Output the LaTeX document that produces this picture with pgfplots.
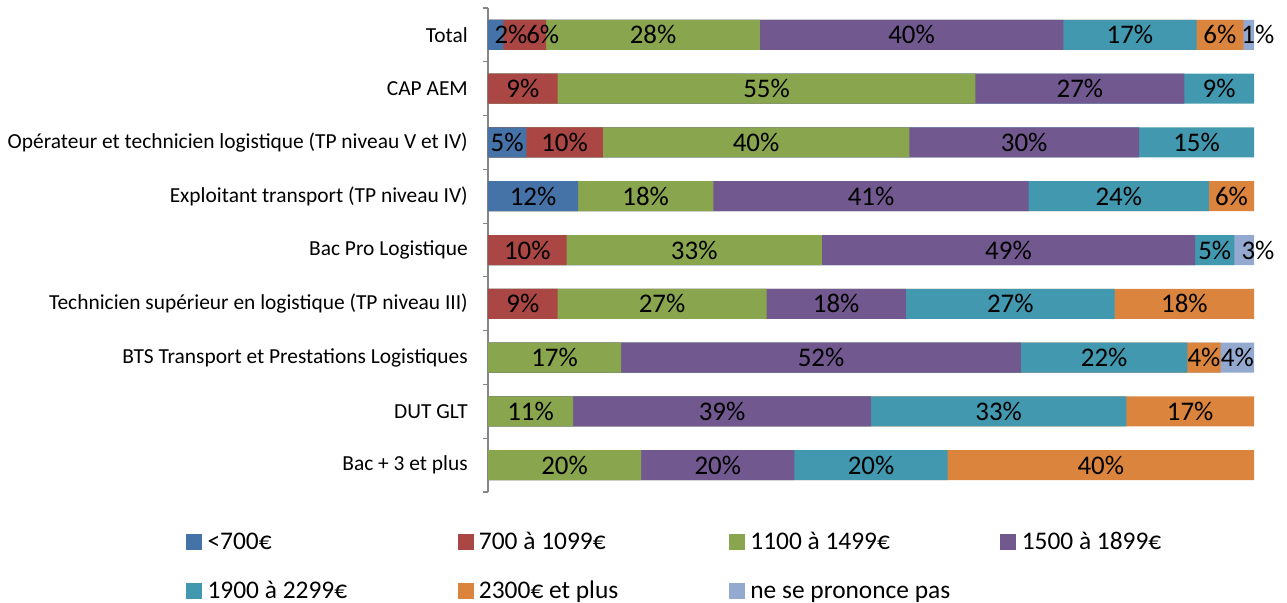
\documentclass[border=0pt]{standalone}
\usepackage{pgfplots}
\pgfplotsset{compat=1.18}
\usepackage{pgfplotstable}
\usepackage{fontspec}
\setmainfont{Carlito}
\definecolor{c1}{HTML}{4572A7}
\definecolor{c2}{HTML}{AA4643}
\definecolor{c3}{HTML}{89A54E}
\definecolor{c4}{HTML}{71588F}
\definecolor{c5}{HTML}{4198AF}
\definecolor{c6}{HTML}{DB843D}
\definecolor{c7}{HTML}{93A9CF}
\definecolor{axgray}{HTML}{868686}
% each series: category index, start and end of its segment (percent, stacked),
% dx = horizontal offset of the data label (percent units)
% <700
\pgfplotstableread{
cat s e dx
0 0 2.0 2.0
2 0 5 0
3 0 11.76 0
}\tA
% 700 a 1099
\pgfplotstableread{
cat s e dx
0 2.0 7.6 2.35
1 0 9.09 0
2 5 15 0
4 0 10.26 0
5 0 9.09 0
}\tB
% 1100 a 1499
\pgfplotstableread{
cat s e dx
0 7.6 35.5 0
1 9.09 63.64 0
2 15 55 0
3 11.76 29.41 0
4 10.26 43.59 0
5 9.09 36.36 0
6 0 17.39 0
7 0 11.11 0
8 0 20 0
}\tC
% 1500 a 1899
\pgfplotstableread{
cat s e dx
0 35.5 75.1 0
1 63.64 90.91 0
2 55 85 0
3 29.41 70.59 0
4 43.59 92.31 0
5 36.36 54.55 0
6 17.39 69.57 0
7 11.11 50 0
8 20 40 0
}\tD
% 1900 a 2299
\pgfplotstableread{
cat s e dx
0 75.1 92.5 0
1 90.91 100 0
2 85 100 0
3 70.59 94.12 0
4 92.31 97.44 0
5 54.55 81.82 0
6 69.57 91.30 0
7 50 83.33 0
8 40 60 0
}\tE
% 2300 et plus
\pgfplotstableread{
cat s e dx
0 92.5 98.6 0
3 94.12 100 0
5 81.82 100 0
6 91.30 95.65 0
7 83.33 100 0
8 60 100 0
}\tF
% ne se prononce pas
\pgfplotstableread{
cat s e dx
0 98.6 100 1.2
4 97.44 100 1.8
6 95.65 100 0
}\tG
\pgfplotsset{
  seg/.style={xbar, bar width=30bp, bar shift=0pt, draw=none, forget plot, fill=#1},
  lab/.style={draw=none, mark=none, forget plot,
    point meta={\thisrow{e}-\thisrow{s}},
    nodes near coords={\pgfmathprintnumber[fixed,precision=0]{\pgfplotspointmeta}\%},
    every node near coord/.append style={anchor=center, font=\fontsize{27}{29}\selectfont, text=black, inner sep=0pt}},
  sq/.style={legend image code/.code={\fill[#1] (0bp,-5bp) rectangle (15bp,10bp);}},
}
\begin{document}
\begin{tikzpicture}
\useasboundingbox (-488bp,-111bp) rectangle (799bp,492bp);
\begin{axis}[
  at={(0,0)}, anchor=south west,
  scale only axis, width=766bp, height=484bp,
  xmin=0, xmax=100,
  ymin=-0.5, ymax=8.5, y dir=reverse,
  axis x line=none,
  axis y line*=left,
  y axis line style={draw=axgray, line width=1.2bp},
  ytick={0,...,8},
  yticklabels={Total, CAP AEM, Opérateur et technicien logistique (TP niveau V et IV), Exploitant transport (TP niveau IV), Bac Pro Logistique, Technicien supérieur en logistique (TP niveau III), BTS Transport et Prestations Logistiques, DUT GLT, Bac + 3 et plus},
  major tick length=0pt,
  minor ytick={-0.5,0.5,...,8.5},
  minor tick length=5bp,
  tick align=outside,
  every minor tick/.style={draw=axgray, line width=1.2bp},
  yticklabel style={font=\fontsize{21.5}{23}\selectfont, inner sep=0pt, xshift=-20bp, anchor=east},
  /pgf/number format/assume math mode=true,
  clip=false,
  legend columns=4,
  legend style={at={(0,0)}, anchor=north west, xshift=-302bp, yshift=-42bp, draw=none, fill=none, inner sep=0pt, column sep=0pt, row sep=28.5bp, font=\fontsize{25.5}{27}\selectfont, nodes={inner sep=0pt, text height=15bp, text depth=5bp}},
]
\addplot[seg=c7] table[x=e, y=cat] {\tG};
\addplot[seg=c6] table[x=e, y=cat] {\tF};
\addplot[seg=c5] table[x=e, y=cat] {\tE};
\addplot[seg=c4] table[x=e, y=cat] {\tD};
\addplot[seg=c3] table[x=e, y=cat] {\tC};
\addplot[seg=c2] table[x=e, y=cat] {\tB};
\addplot[seg=c1] table[x=e, y=cat] {\tA};
\addplot[lab] table[x expr={(\thisrow{s}+\thisrow{e})/2+\thisrow{dx}}, y=cat] {\tA};
\addplot[lab] table[x expr={(\thisrow{s}+\thisrow{e})/2+\thisrow{dx}}, y=cat] {\tB};
\addplot[lab] table[x expr={(\thisrow{s}+\thisrow{e})/2+\thisrow{dx}}, y=cat] {\tC};
\addplot[lab] table[x expr={(\thisrow{s}+\thisrow{e})/2+\thisrow{dx}}, y=cat] {\tD};
\addplot[lab] table[x expr={(\thisrow{s}+\thisrow{e})/2+\thisrow{dx}}, y=cat] {\tE};
\addplot[lab] table[x expr={(\thisrow{s}+\thisrow{e})/2+\thisrow{dx}}, y=cat] {\tF};
\addplot[lab] table[x expr={(\thisrow{s}+\thisrow{e})/2+\thisrow{dx}}, y=cat] {\tG};
\addlegendimage{sq=c1}
\addlegendentry{\makebox[256bp][l]{\hspace{6bp}<700€}}
\addlegendimage{sq=c2}
\addlegendentry{\makebox[256bp][l]{\hspace{6bp}700 à 1099€}}
\addlegendimage{sq=c3}
\addlegendentry{\makebox[256bp][l]{\hspace{6bp}1100 à 1499€}}
\addlegendimage{sq=c4}
\addlegendentry{\makebox[256bp][l]{\hspace{6bp}1500 à 1899€}}
\addlegendimage{sq=c5}
\addlegendentry{\makebox[256bp][l]{\hspace{6bp}1900 à 2299€}}
\addlegendimage{sq=c6}
\addlegendentry{\makebox[256bp][l]{\hspace{6bp}2300€ et plus}}
\addlegendimage{sq=c7}
\addlegendentry{\makebox[256bp][l]{\hspace{6bp}ne se prononce pas}}
\end{axis}
\end{tikzpicture}
\end{document}
